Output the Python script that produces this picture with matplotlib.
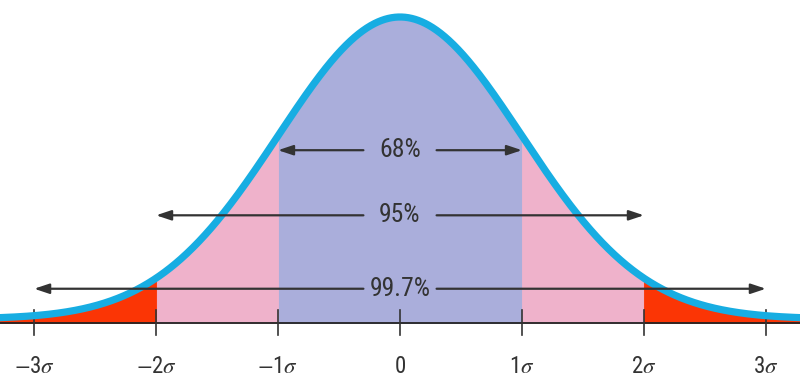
import numpy as np
import matplotlib.pyplot as plt

plt.rcParams['mathtext.fontset'] = 'stix'
fam = ['Roboto Condensed', 'Liberation Sans', 'DejaVu Sans']

# data
mu, sigma = 0.0, 1.0
tick_pos = [-3, -2, -1, 0, 1, 2, 3]
tick_labels = ['$-$3$\\sigma$', '$-$2$\\sigma$', '$-$1$\\sigma$', '0',
               '1$\\sigma$', '2$\\sigma$', '3$\\sigma$']
spans = [1, 2, 3]
span_labels = ['68%', '95%', '99.7%']
span_y = [0.223, 0.137, 0.040]
bands = [(-1, 1), (-2, -1), (1, 2), (-3.3, -2), (2, 3.3)]
band_colors = ['#aaaedb', '#efb2cb', '#efb2cb', '#fb3505', '#fb3505']


def pdf(v):
    return np.exp(-0.5 * ((v - mu) / sigma) ** 2) / (sigma * np.sqrt(2 * np.pi))


x = np.linspace(-3.3, 3.3, 1200)

fig = plt.figure(figsize=(8, 3.78), dpi=100)
ax = fig.add_axes([0, 0, 1, 1])
ax.set_xlim(-3.28, 3.28)
ax.set_ylim(-0.0779, 0.4214)
ax.axis('off')

c_line = '#17ade2'
c_txt = '#333333'
base = -0.005

for (a, b), col in zip(bands, band_colors):
    xs = np.linspace(a, b, 300)
    ax.fill_between(xs, base, pdf(xs), color=col, lw=0.6, edgecolor=col)

# baseline and ticks
ax.plot([-3.3, 3.3], [base, base], color='#222222', lw=1.3, zorder=2)
for p, lab in zip(tick_pos, tick_labels):
    ax.plot([p, p], [0.012, -0.021], color='#333333', lw=1.2, zorder=2)
    ax.text(p, -0.0713, lab, ha='center', va='baseline', fontsize=16.5,
            color=c_txt, family=fam)

ax.plot(x, pdf(x), color=c_line, lw=5.2, solid_capstyle='butt', zorder=3)

# range arrows
gap = 0.30
for s, lab, yy in zip(spans, span_labels, span_y):
    for sign in (-1, 1):
        ax.annotate('', xy=(sign * s, yy), xytext=(sign * gap, yy),
                    arrowprops=dict(arrowstyle='-|>,head_length=0.9,head_width=0.3',
                                    color=c_txt, lw=1.6, shrinkA=0, shrinkB=0),
                    zorder=4)
    ax.text(0, yy, lab, ha='center', va='center', fontsize=18.5, color=c_txt,
            family=fam, zorder=4)

fig.savefig('out.png', dpi=100)
